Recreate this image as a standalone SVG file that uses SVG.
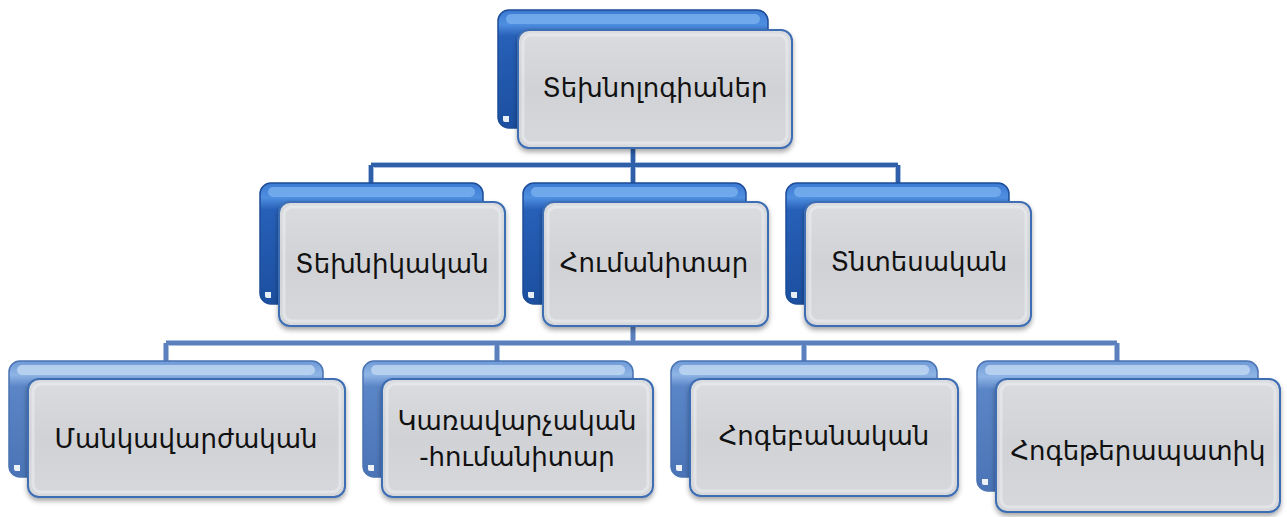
<svg xmlns="http://www.w3.org/2000/svg" width="1287" height="517" viewBox="0 0 1287 517">
  <style>
    .bg { fill: #ffffff; }
    .back-dark { fill: url(#gBackDark); stroke: #1d4c98; stroke-width: 1.5; }
    .back-light { fill: url(#gBackLight); stroke: #4a73b3; stroke-width: 1.5; }
    .gloss-dark { fill: #7db4f0; opacity: 0.75; }
    .gloss-light { fill: #c2d8f3; opacity: 0.8; }
    .corner { fill: #ffffff; opacity: 0.9; }
    .front { fill: url(#gFront); stroke: #3e6db3; stroke-width: 2; filter: url(#shadow); }
    .bevel { fill: none; stroke: #eceef0; stroke-opacity: 0.55; stroke-width: 3; }
    .label { font-family: "DejaVu Sans", "Noto Sans", sans-serif; font-size: 26px; fill: #111111; text-anchor: middle; }
    .link1 { fill: none; stroke: #2f5fa9; stroke-width: 4; }
    .link2 { fill: none; stroke: #5b80bd; stroke-width: 4; }
    .link-edge { fill: none; stroke: #a9bfe0; stroke-width: 6; }
  </style>
  <defs>
    <linearGradient id="gBackDark" x1="0" y1="0" x2="0" y2="1">
      <stop offset="0" stop-color="#3c7ad2"/>
      <stop offset="0.12" stop-color="#4f8fe0"/>
      <stop offset="0.22" stop-color="#2760b8"/>
      <stop offset="1" stop-color="#1c4f9f"/>
    </linearGradient>
    <linearGradient id="gBackLight" x1="0" y1="0" x2="0" y2="1">
      <stop offset="0" stop-color="#6f9ad6"/>
      <stop offset="0.12" stop-color="#8fb5e6"/>
      <stop offset="0.22" stop-color="#5a85c6"/>
      <stop offset="1" stop-color="#4a74b6"/>
    </linearGradient>
    <linearGradient id="gFront" x1="0" y1="0" x2="0" y2="1">
      <stop offset="0" stop-color="#dadce0"/>
      <stop offset="0.5" stop-color="#d0d2d6"/>
      <stop offset="1" stop-color="#d6d8dc"/>
    </linearGradient>
    <filter id="shadow" x="-10%" y="-10%" width="120%" height="130%">
      <feDropShadow dx="0" dy="3" stdDeviation="2.5" flood-color="#000000" flood-opacity="0.35"/>
    </filter>
  </defs>

  <rect class="bg" x="0" y="0" width="1287" height="517"/>

  <!-- connectors -->
  <g id="connectors">
    <path class="link-edge" d="M633,148 V165 M371,165 H898 M371,165 V183 M633,165 V183 M898,165 V183"/>
    <path class="link1" d="M633,148 V165 M371,165 H898 M371,165 V183 M633,165 V183 M898,165 V183"/>
    <path class="link-edge" d="M633,326 V343 M166,343 H1117 M166,343 V361 M497,343 V361 M804,343 V361 M1117,343 V361"/>
    <path class="link2" d="M633,326 V343 M166,343 H1117 M166,343 V361 M497,343 V361 M804,343 V361 M1117,343 V361"/>
  </g>

  <!-- level 0 -->
  <g id="node-tekhnologianer">
    <rect class="back-dark" x="498" y="10" width="270" height="118" rx="11"/>
    <rect class="gloss-dark" x="506" y="14" width="254" height="10" rx="5"/>
    <path class="corner" d="M503,116 h6 v6 h-4 q-2,0 -2,-2 z"/>
    <rect class="front" x="518" y="30" width="274" height="118" rx="11"/>
    <rect class="bevel" x="523" y="35" width="264" height="108" rx="8"/>
    <text class="label" x="655" y="97">Տեխնոլոգիաներ</text>
  </g>

  <!-- level 1 -->
  <g id="node-tekhnikakan">
    <rect class="back-dark" x="260" y="183" width="223" height="121" rx="11"/>
    <rect class="gloss-dark" x="268" y="187" width="207" height="10" rx="5"/>
    <path class="corner" d="M265,292 h6 v6 h-4 q-2,0 -2,-2 z"/>
    <rect class="front" x="279" y="202" width="226" height="124" rx="11"/>
    <rect class="bevel" x="284" y="207" width="216" height="114" rx="8"/>
    <text class="label" x="392" y="273">Տեխնիկական</text>
  </g>

  <g id="node-humanitar">
    <rect class="back-dark" x="523" y="183" width="223" height="121" rx="11"/>
    <rect class="gloss-dark" x="531" y="187" width="207" height="10" rx="5"/>
    <path class="corner" d="M528,292 h6 v6 h-4 q-2,0 -2,-2 z"/>
    <rect class="front" x="543" y="202" width="225" height="124" rx="11"/>
    <rect class="bevel" x="548" y="207" width="215" height="114" rx="8"/>
    <text class="label" x="654" y="272">Հումանիտար</text>
  </g>

  <g id="node-tntesakan">
    <rect class="back-dark" x="786" y="183" width="223" height="121" rx="11"/>
    <rect class="gloss-dark" x="794" y="187" width="207" height="10" rx="5"/>
    <path class="corner" d="M791,292 h6 v6 h-4 q-2,0 -2,-2 z"/>
    <rect class="front" x="805" y="202" width="226" height="124" rx="11"/>
    <rect class="bevel" x="810" y="207" width="216" height="114" rx="8"/>
    <text class="label" x="919" y="271">Տնտեսական</text>
  </g>

  <!-- level 2 -->
  <g id="node-mankavarzhakan">
    <rect class="back-light" x="9" y="361" width="314" height="116" rx="11"/>
    <rect class="gloss-light" x="17" y="365" width="298" height="10" rx="5"/>
    <path class="corner" d="M14,465 h6 v6 h-4 q-2,0 -2,-2 z"/>
    <rect class="front" x="28" y="379" width="317" height="118" rx="11"/>
    <rect class="bevel" x="33" y="384" width="307" height="108" rx="8"/>
    <text class="label" x="186" y="448">Մանկավարժական</text>
  </g>

  <g id="node-karavarchakan">
    <rect class="back-light" x="363" y="361" width="270" height="116" rx="11"/>
    <rect class="gloss-light" x="371" y="365" width="254" height="10" rx="5"/>
    <path class="corner" d="M368,465 h6 v6 h-4 q-2,0 -2,-2 z"/>
    <rect class="front" x="382" y="379" width="271" height="118" rx="11"/>
    <rect class="bevel" x="387" y="384" width="261" height="108" rx="8"/>
    <text class="label" x="517" y="430">Կառավարչական</text>
    <text class="label" x="517" y="466">-հումանիտար</text>
  </g>

  <g id="node-hogebanakan">
    <rect class="back-light" x="671" y="361" width="266" height="116" rx="11"/>
    <rect class="gloss-light" x="679" y="365" width="250" height="10" rx="5"/>
    <path class="corner" d="M676,465 h6 v6 h-4 q-2,0 -2,-2 z"/>
    <rect class="front" x="690" y="379" width="268" height="117" rx="11"/>
    <rect class="bevel" x="695" y="384" width="258" height="107" rx="8"/>
    <text class="label" x="824" y="445">Հոգեբանական</text>
  </g>

  <g id="node-hogeterapatik">
    <rect class="back-light" x="977" y="361" width="281" height="130" rx="11"/>
    <rect class="gloss-light" x="985" y="365" width="265" height="10" rx="5"/>
    <path class="corner" d="M982,479 h6 v6 h-4 q-2,0 -2,-2 z"/>
    <rect class="front" x="996" y="379" width="284" height="133" rx="11"/>
    <rect class="bevel" x="1001" y="384" width="274" height="123" rx="8"/>
    <text class="label" x="1138" y="460">Հոգեթերապատիկ</text>
  </g>
</svg>
